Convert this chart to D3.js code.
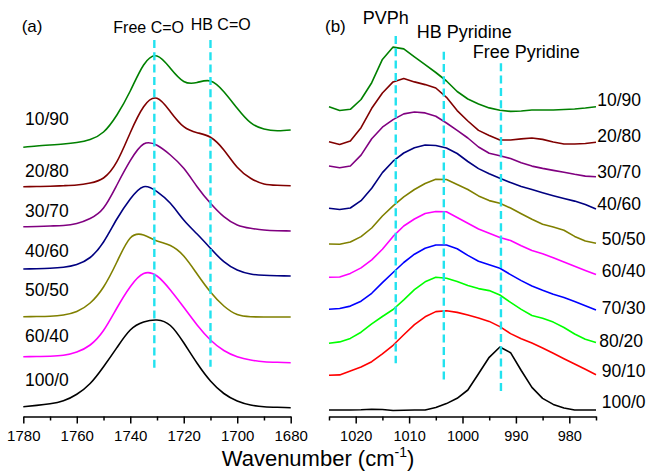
<!DOCTYPE html>
<html><head><meta charset="utf-8">
<script src="https://cdn.jsdelivr.net/npm/d3@7"></script>
<style>body{margin:0;background:#fff} svg{display:block;font-family:Arial,"Liberation Sans",sans-serif}</style>
</head><body><svg id="c" width="647" height="471"></svg>
<script>
// ---------- DATA ----------
// Panel (a): C=O region (offset absorbance, a.u.)
const wnA = [1780,1775,1770,1765,1760,1755,1750,1745,1740,1735,1730,1725,1720,1715,1710,1705,1700,1695,1690,1685,1680];
const labelsA = ["10/90","20/80","30/70","40/60","50/50","60/40","100/0"];
const A_10_90 = [272.7,274,275,276,277.5,280.5,288,305,329,355,364,351.7,338.5,337.5,339,328.3,311.7,297.3,291,289.3,290];
const A_20_80 = [233.3,233.5,233.8,234.3,235,237,242,258.3,287.3,313.3,321.7,308.3,293.3,287.3,282.7,270,252.7,241.7,236,234.7,234.3];
const A_30_70 = [193.3,193.5,194,194.5,196.5,201.5,212,235,259.3,276,274.7,265,251.7,233.3,216.7,203.3,195,191.7,190,189.3,189];
const A_40_60 = [151,151.3,151.7,152.7,155.5,162.5,178,201,221,233.3,228.3,216.7,200,186,171.7,158.3,150,146,144.7,144.3,144];
const A_50_50 = [103.3,103.5,103.8,105,108.5,117,133,158,182,185,179,174.5,164,146,128,114,105.5,103.3,103,103,103];
const A_60_40 = [63.3,63.5,63.8,64.7,68,75,89.5,112,133.3,146.5,144,130,112.7,95,80,69.5,63.3,60,58.3,57.7,57.3];
const A_100_0 = [13.3,14.6,16.2,19.2,25.8,36.5,53.3,72.4,90,98,100,94.5,77.2,56.7,39,26.5,19,15,13.3,12.7,12.3];
const colorsA = ["#008000","#800000","#800080","#000080","#808000","#ff00ff","#000000"];
const ticksA = [1780,1760,1740,1720,1700,1680];
const minorA = [1770,1750,1730,1710,1690];
const refA = [1731,1710];
const refA_top = [380,380], refA_bot = [52,53.3];
const annotA = ["Free C=O","HB C=O"];

// Panel (b): pyridine ring region
const wnB = [1025,1023,1021,1019,1017,1015,1013,1011,1009,1007,1005,1003,1001,999,997,995,993,991,989,987,985,983,981,979,977,975];
const labelsB = ["10/90","20/80","30/70","40/60","50/50","60/40","70/30","80/20","90/10","100/0"];
const B_10_90 = [313.3,309.5,310.7,320.5,337.3,360.6,372.9,371.1,363.1,355.3,347.5,339,328.5,321,316.1,312.1,309.7,308.6,309,310,310,310,310.5,311,312,313.3];
const B_20_80 = [278.3,275.5,279,292.3,311.7,327,338.1,341.5,338.1,335.4,332,322.7,309.4,299,289.6,284.5,280,280,281.1,282,280.6,278,276,276,276.5,277.7];
const B_30_70 = [254,252.3,254,264.9,281.2,292.8,300.4,306.1,308,307.1,303.7,297,289.7,282,273,266.7,264.2,261.5,257.2,253.9,251.6,249.6,247.8,245.7,243.9,243.3];
const B_40_60 = [211.7,210.5,212,219.3,231.8,247.4,258.8,267,272.3,275,274.5,272,266.5,258.5,251.4,246.2,241.7,237.4,233.6,230.4,227.3,224.3,221.5,218.9,215.5,211];
const B_50_50 = [176,175.7,178,183.4,192,204,214.2,223.1,230.5,236.5,240.7,240.5,235.5,230.5,224.1,219.4,216.7,212,206.3,200.7,195.7,193,189.7,183.6,179,176.7];
const B_60_40 = [142.7,143,146.6,152.1,160.1,170.8,183.6,194,201,206.5,208.5,208.3,202.5,196.8,191,186.7,182.5,179.5,174.3,169.4,166.2,162.3,158,153.8,149.6,145.5];
const B_70_30 = [110.7,111.5,113.9,118.8,126.7,137.4,147.5,157.5,165.8,171.8,175,175,171.2,164.6,158.7,155.3,151.7,145.4,139.4,134,129.7,125.7,122.5,118.5,114.3,110];
const B_80_20 = [76.8,78.1,81.6,87.8,96.1,103.5,110.5,120.2,130.4,138.2,142.7,141.8,138.4,134.6,131.4,129.4,125,117.6,110.6,104.5,101.8,97.9,92.5,86,80.7,77.5];
const B_90_10 = [44.8,45.1,49.1,53,58.3,66.1,74.7,85.2,95.3,103.2,108.4,109.2,107.6,105,102.1,98.6,93.4,86.4,81.2,76.9,72,66.7,61.3,56,50.7,45.3];
const B_100_0 = [10,10,10,10.2,10.7,10.5,9.5,9.8,10,10,12.5,16.4,21.7,30,46.2,62.7,73,67.3,49.5,32.6,21.6,15.6,12,10,10,10];
const colorsB = ["#008000","#800000","#800080","#000080","#808000","#ff00ff","#0000ff","#00ff00","#ff0000","#000000"];
const ticksB = [1020,1010,1000,990,980];
const minorB = [1025,1015,1005,995,985,975];
const refB = [1012.5,1003.5,992.8];
const refB_top = [384,368.3,356.7], refB_bot = [56.7,40,26.7];
const annotB = ["PVPh","HB Pyridine","Free Pyridine"];

const xTitle = "Wavenumber (cm";
const xTitleSup = "-1";

// ---------- DRAWING ----------
const seriesA = [A_10_90,A_20_80,A_30_70,A_40_60,A_50_50,A_60_40,A_100_0];
const seriesB = [B_10_90,B_20_80,B_30_70,B_40_60,B_50_50,B_60_40,B_70_30,B_80_20,B_90_10,B_100_0];

const svg = d3.select("#c");
const y = d3.scaleLinear().domain([0,400]).range([420,20]);
const xA = d3.scaleLinear().domain([1780,1680]).range([23.3,290.7]);
const xB = d3.scaleLinear().domain([1025,975]).range([329,596]);
const axisY = 416.5;
const refColor = "#22e2ef";

function curves(x, wn, series, colors, curve){
  const line = d3.line().x((d,i)=>x(wn[i])).y(d=>y(d)).curve(curve);
  svg.append("g").selectAll("path").data(series).join("path")
    .attr("d", d=>line(d)).attr("fill","none")
    .attr("stroke",(d,i)=>colors[i]).attr("stroke-width",1.6)
    .attr("stroke-linejoin","round");
}
function refs(x, wns, tops, bots){
  svg.append("g").selectAll("line").data(wns).join("line")
    .attr("x1",d=>x(d)).attr("x2",d=>x(d))
    .attr("y1",(d,i)=>y(tops[i])).attr("y2",(d,i)=>y(bots[i]))
    .attr("stroke",refColor).attr("stroke-width",2.4).attr("stroke-dasharray","8,4.3");
}
function axis(x, ticks, minor, fs){
  const g = svg.append("g").attr("transform",`translate(0,${axisY})`);
  g.call(d3.axisBottom(x).tickValues(ticks).tickSize(7).tickSizeOuter(0).tickFormat(d3.format("d")));
  g.select(".domain").attr("stroke-width",1.6);
  g.selectAll(".tick line").attr("stroke-width",1.5);
  g.selectAll(".tick text").attr("font-size",fs).attr("font-family","Arial, 'Liberation Sans', sans-serif").attr("y",14).attr("fill","#000");
  const gm = svg.append("g").attr("transform",`translate(0,${axisY})`);
  gm.call(d3.axisBottom(x).tickValues(minor).tickSize(4).tickSizeOuter(0).tickFormat(""));
  gm.select(".domain").remove();
  gm.selectAll(".tick line").attr("stroke-width",1.5);
}

curves(xA, wnA, seriesA, colorsA, d3.curveNatural);
curves(xB, wnB, seriesB, colorsB, d3.curveLinear);
refs(xA, refA, refA_top, refA_bot);
refs(xB, refB, refB_top, refB_bot);
axis(xA, ticksA, minorA, 15);
axis(xB, ticksB, minorB, 14.5);

// series labels
const labAy = [125,176.7,216.7,256.7,296,341.7,385.7];
svg.append("g").selectAll("text").data(labelsA).join("text")
  .attr("x",25).attr("y",(d,i)=>labAy[i]).attr("font-size",17.5).text(d=>d);
const labBx = [597.3,597.3,597.3,597.3,601.7,601.7,601.7,599.3,601.7,601.7];
const labBy = [106,141.7,178.3,210,245,276.7,314,346.7,376.7,407.7];
svg.append("g").selectAll("text").data(labelsB).join("text")
  .attr("x",(d,i)=>labBx[i]).attr("y",(d,i)=>labBy[i]).attr("font-size",17.5).text(d=>d);

// annotations
svg.append("text").attr("x",21.7).attr("y",31.7).attr("font-size",17).text("(a)");
svg.append("text").attr("x",325).attr("y",31.7).attr("font-size",17).text("(b)");
const annAx = [113.3,190.7], annAy = [33.3,30];
svg.append("g").selectAll("text").data(annotA).join("text")
  .attr("x",(d,i)=>annAx[i]).attr("y",(d,i)=>annAy[i]).attr("font-size",16).text(d=>d);
const annBx = [362.7,416.7,472.7], annBy = [24,38.3,58.3];
svg.append("g").selectAll("text").data(annotB).join("text")
  .attr("x",(d,i)=>annBx[i]).attr("y",(d,i)=>annBy[i]).attr("font-size",18).text(d=>d);

// axis title
const t = svg.append("text").attr("x",318).attr("y",465.5).attr("text-anchor","middle").attr("font-size",22);
t.append("tspan").text(xTitle);
t.append("tspan").attr("font-size",14).attr("dy",-9).text(xTitleSup);
t.append("tspan").attr("dy",9).text(")");
</script></body></html>
